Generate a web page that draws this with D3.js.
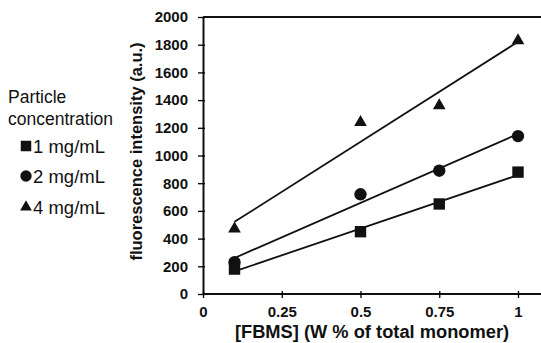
<!DOCTYPE html>
<html>
<head>
<meta charset="utf-8">
<script src="https://cdn.jsdelivr.net/npm/d3@7"></script>
<style>
  body { margin: 0; background: #fff; }
  text { font-family: "Liberation Sans", Arial, sans-serif; fill: #111; }
</style>
</head>
<body>
<div id="root"></div>
<script>
// data
const xValues = [0.1, 0.5, 0.75, 1];
const series1 = [180, 450, 650, 880];     // 1 mg/mL, squares
const series2 = [230, 720, 890, 1140];    // 2 mg/mL, circles
const series4 = [470, 1240, 1360, 1830];  // 4 mg/mL, triangles
const seriesLabels = ["1 mg/mL", "2 mg/mL", "4 mg/mL"];
const xTicks = [0, 0.25, 0.5, 0.75, 1];
const xTickLabels = ["0", "0.25", "0.5", "0.75", "1"];
const yTicks = [0, 200, 400, 600, 800, 1000, 1200, 1400, 1600, 1800, 2000];

const W = 541, H = 343;
const plotLeft = 203, plotRight = 518, plotTop = 17, plotBottom = 294;

const svg = d3.select("#root").append("svg")
  .attr("width", W).attr("height", H);

const x = d3.scaleLinear().domain([0, 1]).range([plotLeft, plotRight]);
const y = d3.scaleLinear().domain([0, 2000]).range([plotBottom, plotTop]);

// frame: top line and x axis run to the edge
svg.append("line")
  .attr("x1", plotLeft).attr("x2", W).attr("y1", plotTop).attr("y2", plotTop)
  .attr("stroke", "#111").attr("stroke-width", 2);

const yAxis = svg.append("g")
  .attr("transform", `translate(${plotLeft},0)`)
  .call(d3.axisLeft(y).tickValues(yTicks).tickFormat(d3.format("d")).tickSize(3).tickSizeOuter(0));
yAxis.select(".domain").attr("stroke", "#111").attr("stroke-width", 2);
yAxis.selectAll(".tick line").attr("x2", 2).attr("x1", -5).attr("stroke-width", 1.3);
yAxis.selectAll("text")
  .style("font-size", "15px").style("font-weight", "bold")
  .attr("x", -15);

const xAxis = svg.append("g")
  .attr("transform", `translate(0,${plotBottom})`)
  .call(d3.axisBottom(x).tickValues(xTicks).tickFormat((d, i) => xTickLabels[i])
        .tickSize(4).tickSizeOuter(0).tickPadding(8));
xAxis.select(".domain").attr("d", `M${plotLeft},0H${W}`).attr("stroke", "#111").attr("stroke-width", 2);
xAxis.selectAll(".tick line").attr("y1", -3).attr("y2", 4).attr("stroke-width", 1.3);
xAxis.selectAll("text")
  .style("font-size", "15px").style("font-weight", "bold");

// axis titles
svg.append("text")
  .attr("transform", `translate(142,${(plotTop + plotBottom) / 2 - 4}) rotate(-90)`)
  .attr("text-anchor", "middle")
  .style("font-size", "16.5px").style("font-weight", "bold")
  .text("fluorescence intensity (a.u.)");

svg.append("text")
  .attr("x", 372).attr("y", 338)
  .attr("text-anchor", "middle")
  .style("font-size", "18.3px").style("font-weight", "bold")
  .text("[FBMS] (W % of total monomer)");

// least squares trend line for each series
function fit(vals) {
  const mx = d3.mean(xValues), my = d3.mean(vals);
  let sxy = 0, sxx = 0;
  xValues.forEach((xv, i) => { sxy += (xv - mx) * (vals[i] - my); sxx += (xv - mx) ** 2; });
  const b = sxy / sxx, a = my - b * mx;
  return [xValues[0], xValues[xValues.length - 1]].map(xv => [xv, a + b * xv]);
}

const allSeries = [
  { vals: series1, shape: d3.symbolSquare, size: 130 },
  { vals: series2, shape: d3.symbolCircle, size: 120 },
  { vals: series4, shape: d3.symbolTriangle, size: 70 }
];

const lineGen = d3.line().x(d => x(d[0])).y(d => y(d[1]));

allSeries.forEach(s => {
  svg.append("path")
    .attr("d", lineGen(fit(s.vals)))
    .attr("fill", "none").attr("stroke", "#111").attr("stroke-width", 1.8);
  svg.selectAll(null)
    .data(s.vals)
    .enter()
    .append("path")
    .attr("transform", (d, i) => `translate(${x(xValues[i])},${y(d)})`)
    .attr("d", d3.symbol().type(s.shape).size(s.size))
    .attr("fill", "#111");
});

// legend
const legend = svg.append("g");
legend.append("text").attr("x", 8).attr("y", 103)
  .style("font-size", "17.5px").text("Particle");
legend.append("text").attr("x", 8).attr("y", 125)
  .style("font-size", "17.5px").text("concentration");

const legendY = [153, 183, 214];
allSeries.forEach((s, i) => {
  legend.append("path")
    .attr("transform", `translate(26,${legendY[i] - 7})`)
    .attr("d", d3.symbol().type(s.shape).size(s.size * 0.85))
    .attr("fill", "#111");
  legend.append("text")
    .attr("x", 33).attr("y", legendY[i])
    .style("font-size", "18.5px").text(seriesLabels[i]);
});
</script>
</body>
</html>
